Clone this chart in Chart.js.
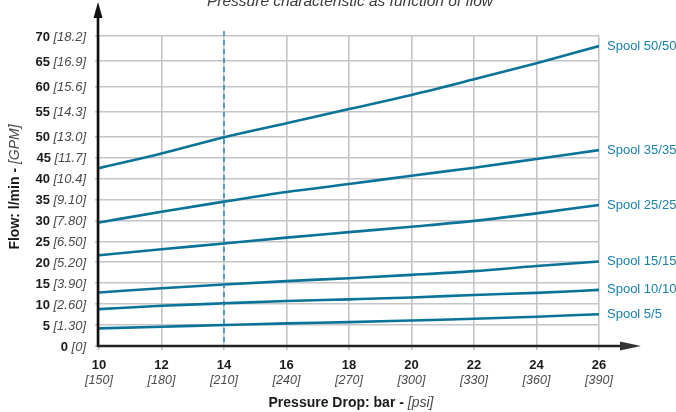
<!DOCTYPE html>
<html>
<head>
<meta charset="utf-8">
<script src="https://cdn.jsdelivr.net/npm/chart.js@4/dist/chart.umd.min.js"></script>
<style>
  html, body { margin: 0; padding: 0; background: #ffffff; }
  #wrap { width: 676px; height: 412px; position: relative; }
</style>
</head>
<body>
<div id="wrap"><canvas id="c"></canvas></div>
<script>
// ---- data ----
const pressureBar = [10, 12, 14, 16, 18, 20, 22, 24, 26];
const psiLabels = ['150', '180', '210', '240', '270', '300', '330', '360', '390'];
const flowTicks = [0, 5, 10, 15, 20, 25, 30, 35, 40, 45, 50, 55, 60, 65, 70];
const gpmLabels = ['0', '1.30', '2.60', '3.90', '5.20', '6.50', '7.80', '9.10', '10.4', '11.7', '13.0', '14.3', '15.6', '16.9', '18.2'];
const seriesNames = ['Spool 50/50', 'Spool 35/35', 'Spool 25/25', 'Spool 15/15', 'Spool 10/10', 'Spool 5/5'];
const spool50 = [42.5, 46.0, 49.9, 52.7, 55.5, 58.3, 61.4, 64.6, 68.0];
const spool35 = [29.5, 32.1, 34.5, 36.8, 38.7, 40.7, 42.6, 44.7, 46.8];
const spool25 = [21.7, 23.1, 24.5, 25.9, 27.2, 28.5, 29.9, 31.7, 33.7];
const spool15 = [12.8, 13.8, 14.7, 15.5, 16.2, 17.0, 17.9, 19.1, 20.2];
const spool10 = [8.8, 9.6, 10.2, 10.75, 11.15, 11.6, 12.2, 12.7, 13.4];
const spool5  = [4.2, 4.6, 5.0, 5.4, 5.7, 6.1, 6.5, 7.0, 7.6];
const markerPressure = 14;
const titleText = 'Pressure characteristic as function of flow';

// ---- styles ----
const LINE = '#0a7398';
const LABEL = '#1a80ab';
const GRID = '#c4c4c9';
const BREAK_AT = 50;      // y scale is stretched above this value
const BREAK_FRAC = 0.675; // share of the axis height used by 0..BREAK_AT

class BrokenLinearScale extends Chart.LinearScale {
  getPixelForValue(v) {
    const t = v <= BREAK_AT
      ? (v - this.min) / (BREAK_AT - this.min) * BREAK_FRAC
      : BREAK_FRAC + (v - BREAK_AT) / (this.max - BREAK_AT) * (1 - BREAK_FRAC);
    return this.getPixelForDecimal(t);
  }
  getValueForPixel(p) {
    const t = this.getDecimalForPixel(p);
    return t <= BREAK_FRAC
      ? this.min + t / BREAK_FRAC * (BREAK_AT - this.min)
      : BREAK_AT + (t - BREAK_FRAC) / (1 - BREAK_FRAC) * (this.max - BREAK_AT);
  }
}
BrokenLinearScale.id = 'brokenLinear';
BrokenLinearScale.defaults = Chart.LinearScale.defaults;
Chart.register(BrokenLinearScale);

const allSeries = [spool50, spool35, spool25, spool15, spool10, spool5];
const datasets = allSeries.map((vals, i) => ({
  label: seriesNames[i],
  data: vals.map((y, k) => ({ x: pressureBar[k], y })),
  borderColor: LINE,
  borderWidth: 2.6,
  pointRadius: 0,
  fill: false,
  cubicInterpolationMode: 'monotone'
}));

const SANS = '"Liberation Sans", Arial, Helvetica, sans-serif';

const decor = {
  id: 'decor',
  afterDraw(chart) {
    const ctx = chart.ctx;
    const xs = chart.scales.x, ys = chart.scales.y;
    const left = xs.left, bottom = ys.bottom;
    ctx.save();

    // dashed marker line
    const mx = xs.getPixelForValue(markerPressure);
    ctx.strokeStyle = '#2a86b0';
    ctx.lineWidth = 1.5;
    ctx.setLineDash([5, 4]);
    ctx.beginPath();
    ctx.moveTo(mx, ys.top - 5);
    ctx.lineTo(mx, bottom);
    ctx.stroke();
    ctx.setLineDash([]);

    // axes with arrows
    ctx.fillStyle = '#111';
    ctx.strokeStyle = '#111';
    ctx.lineWidth = 2.6;
    ctx.beginPath();
    ctx.moveTo(left - 1, bottom + 1);
    ctx.lineTo(left - 1, 16);
    ctx.stroke();
    ctx.beginPath();
    ctx.moveTo(left - 1, 2);
    ctx.lineTo(left - 5.5, 18);
    ctx.lineTo(left + 3.5, 18);
    ctx.closePath();
    ctx.fill();

    ctx.strokeStyle = '#222';
    ctx.fillStyle = '#333';
    ctx.beginPath();
    ctx.moveTo(left - 2, bottom);
    ctx.lineTo(622, bottom);
    ctx.stroke();
    ctx.beginPath();
    ctx.moveTo(641, bottom);
    ctx.lineTo(620, bottom - 4.5);
    ctx.lineTo(620, bottom + 4.5);
    ctx.closePath();
    ctx.fill();

    // y tick labels
    ctx.textBaseline = 'middle';
    flowTicks.forEach((v, i) => {
      const y = ys.getPixelForValue(v);
      const it = '[' + gpmLabels[i] + ']';
      ctx.font = 'italic 13px ' + SANS;
      const iw = ctx.measureText(it).width;
      ctx.textAlign = 'right';
      ctx.fillStyle = '#4a4a4a';
      ctx.fillText(it, 86, y + 1);
      ctx.font = 'bold 13px ' + SANS;
      ctx.fillStyle = '#1a1a1a';
      ctx.fillText(String(v), 86 - iw - 3.5, y + 1);
    });

    // x tick labels
    ctx.textAlign = 'center';
    pressureBar.forEach((v, i) => {
      const x = xs.getPixelForValue(v);
      ctx.font = 'bold 13px ' + SANS;
      ctx.fillStyle = '#1a1a1a';
      ctx.fillText(String(v), x, 365);
      ctx.font = 'italic 12.5px ' + SANS;
      ctx.fillStyle = '#4a4a4a';
      ctx.fillText('[' + psiLabels[i] + ']', x, 381);
    });

    // x axis title
    function mixed(parts, cx, cy) {
      let total = 0;
      parts.forEach(p => { ctx.font = p.font; p.w = ctx.measureText(p.t).width; total += p.w; });
      let x = cx - total / 2;
      ctx.textAlign = 'left';
      parts.forEach(p => { ctx.font = p.font; ctx.fillStyle = p.c; ctx.fillText(p.t, x, cy); x += p.w; });
    }
    mixed([
      { t: 'Pressure Drop: bar - ', font: 'bold 14px ' + SANS, c: '#1a1a1a' },
      { t: '[psi]', font: 'italic 14px ' + SANS, c: '#4a4a4a' }
    ], 351, 403);

    // y axis title
    ctx.save();
    ctx.translate(15, 187);
    ctx.rotate(-Math.PI / 2);
    mixed([
      { t: 'Flow: l/min - ', font: 'bold 14px ' + SANS, c: '#1a1a1a' },
      { t: '[GPM]', font: 'italic 14px ' + SANS, c: '#4a4a4a' }
    ], 0, 0);
    ctx.restore();

    // title
    ctx.font = 'italic 15.5px ' + SANS;
    ctx.fillStyle = '#3a3a3a';
    ctx.textAlign = 'center';
    ctx.textBaseline = 'alphabetic';
    ctx.fillText(titleText, 350, 6);

    // series labels
    ctx.font = '13px ' + SANS;
    ctx.fillStyle = LABEL;
    ctx.textAlign = 'left';
    ctx.textBaseline = 'middle';
    chart.data.datasets.forEach((ds, i) => {
      const meta = chart.getDatasetMeta(i);
      const pt = meta.data[meta.data.length - 1];
      ctx.fillText(ds.label, pt.x + 8, pt.y);
    });

    ctx.restore();
  }
};

new Chart(document.getElementById('c'), {
  type: 'line',
  data: { datasets },
  options: {
    responsive: true,
    maintainAspectRatio: false,
    animation: false,
    layout: { padding: { left: 99, right: 77, top: 36, bottom: 66 } },
    plugins: { legend: { display: false }, tooltip: { enabled: false }, title: { display: false } },
    scales: {
      x: {
        type: 'linear', min: 10, max: 26,
        ticks: { display: false, stepSize: 2 },
        afterBuildTicks: s => { s.ticks = pressureBar.map(v => ({ value: v })); },
        grid: { color: GRID, lineWidth: 1.6, drawTicks: true, tickLength: 4 },
        border: { display: false },
        afterFit: s => { s.height = 0; }
      },
      y: {
        type: 'brokenLinear', min: 0, max: 70,
        ticks: { display: false, stepSize: 5 },
        afterBuildTicks: s => { s.ticks = flowTicks.map(v => ({ value: v })); },
        grid: { color: GRID, lineWidth: 1.6, drawTicks: true, tickLength: 4 },
        border: { display: false },
        afterFit: s => { s.width = 0; }
      }
    }
  },
  plugins: [decor]
});
</script>
</body>
</html>
